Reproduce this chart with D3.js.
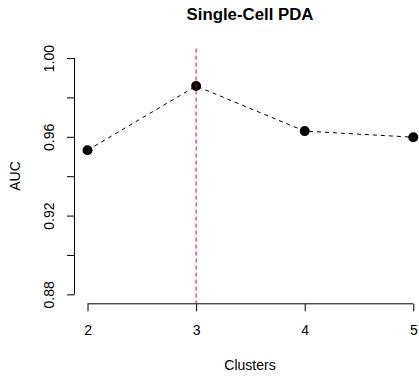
<!DOCTYPE html>
<html>
<head>
<meta charset="utf-8">
<script src="https://d3js.org/d3.v7.min.js"></script>
<style>
  body { margin: 0px; background: #fff; }
  text { font-family: "Liberation Sans", Arial, sans-serif; fill: #000; }
</style>
</head>
<body>
<div id="my_dataviz"></div>
<script>
// data
var clusters = [2, 3, 4, 5];
var auc = [0.9532, 0.9858, 0.9629, 0.9598];
var yTicks = [0.88, 0.90, 0.92, 0.94, 0.96, 0.98, 1.00];
var yLabelTicks = [0.88, 0.92, 0.96, 1.00];
var bestCluster = 3;

var W = 419, H = 377;

var svg = d3.select("#my_dataviz")
    .append("svg")
    .attr("width", W)
    .attr("height", H);

// R style 4% extension of ranges
var x = d3.scaleLinear().domain([1.88, 5.12]).range([74.5, 426.3]);
var y = d3.scaleLinear().domain([0.8752, 1.0048]).range([303.8, 48.6]);

// y axis
var yAxis = d3.axisLeft(y)
    .tickValues(yTicks)
    .tickSize(7.5)
    .tickFormat(function (d) { return yLabelTicks.some(function (v) { return Math.abs(v - d) < 1e-9; }) ? d3.format(".2f")(d) : ""; });
var yg = svg.append("g")
    .attr("transform", "translate(74.5,0)")
    .call(yAxis);
yg.select(".domain").attr("d", "M0," + y(0.88) + "V" + y(1.00)).attr("stroke", "#000");
yg.selectAll(".tick line").attr("stroke", "#000");
yg.selectAll(".tick text")
    .style("font-size", "14px")
    .attr("x", null)
    .attr("text-anchor", "middle")
    .attr("transform", "translate(-25,0) rotate(-90)")
    .attr("y", 0)
    .attr("dy", "0.35em");

// x axis
var xAxis = d3.axisBottom(x)
    .tickValues(clusters)
    .tickSize(7.5)
    .tickFormat(d3.format("d"));
var xg = svg.append("g")
    .attr("transform", "translate(0,303.8)")
    .call(xAxis);
xg.select(".domain").attr("d", "M" + x(2) + ",0H" + x(5)).attr("stroke", "#000");
xg.selectAll(".tick line").attr("stroke", "#000");
xg.selectAll(".tick text")
    .style("font-size", "14px")
    .attr("y", 21);

// dashed line through points
var line = d3.line()
    .x(function (d, i) { return x(clusters[i]); })
    .y(function (d) { return y(d); });
svg.append("path")
    .datum(auc)
    .attr("d", line)
    .attr("fill", "none")
    .attr("stroke", "#000")
    .attr("stroke-width", 1)
    .attr("stroke-dasharray", "4,4");

svg.selectAll("circle")
    .data(auc)
    .enter()
    .append("circle")
    .attr("cx", function (d, i) { return x(clusters[i]); })
    .attr("cy", function (d) { return y(d); })
    .attr("r", 5)
    .style("fill", "#000");

// vertical marker
svg.append("line")
    .attr("x1", x(bestCluster)).attr("x2", x(bestCluster))
    .attr("y1", y.range()[1]).attr("y2", y.range()[0])
    .attr("stroke", "#ff0000")
    .attr("stroke-width", 1)
    .attr("stroke-dasharray", "4,3");

// title and labels
svg.append("text")
    .attr("x", 250).attr("y", 20)
    .attr("text-anchor", "middle")
    .style("font-size", "16.8px")
    .style("font-weight", "bold")
    .text("Single-Cell PDA");

svg.append("text")
    .attr("x", 250).attr("y", 370)
    .attr("text-anchor", "middle")
    .style("font-size", "14px")
    .text("Clusters");

svg.append("text")
    .attr("transform", "translate(20,176) rotate(-90)")
    .attr("text-anchor", "middle")
    .style("font-size", "14px")
    .text("AUC");
</script>
</body>
</html>
